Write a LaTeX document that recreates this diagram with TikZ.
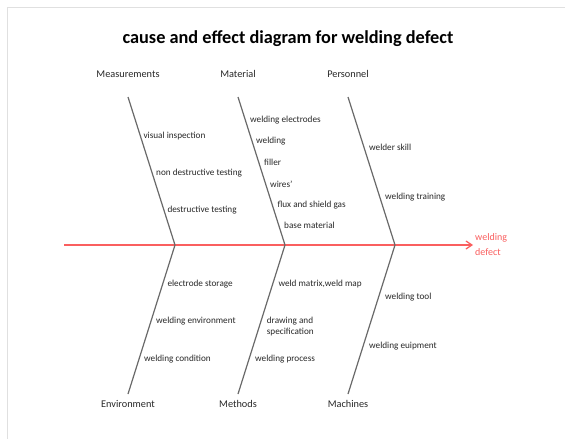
\documentclass[tikz,border=0pt]{standalone}
\usepackage{fontspec}
\setmainfont{Carlito}
\usetikzlibrary{arrows.meta}
\definecolor{spinered}{RGB}{250,95,95}
\definecolor{bonegray}{RGB}{105,105,105}
\definecolor{txt}{RGB}{40,40,40}
\tikzset{
  x=1pt,y=-1pt,
  cause/.style={anchor=west,inner sep=0pt,font=\fontsize{9.2}{11}\selectfont,text=txt,align=left},
  cat/.style={inner sep=0pt,font=\fontsize{10.3}{12}\selectfont,text=txt},
  bone/.style={draw=bonegray,line width=1.2pt},
  spine/.style={draw=spinered,line width=1.6pt,-{Straight Barb[length=6pt,width=8pt,line width=1.2pt]}},
}
\begin{document}
\begin{tikzpicture}
\useasboundingbox (0,0) rectangle (565,439);
\fill[white] (0,0) rectangle (565,439);
\draw[black!12,line width=0.8pt] (7,439) -- (7,7) -- (565,7);
\node[inner sep=0pt,font=\fontsize{18.3}{22}\selectfont\bfseries] (title) at (288,38.5) {cause and effect diagram for welding defect};
% junctions
\coordinate (j1) at (175,245);
\coordinate (j2) at (285,245);
\coordinate (j3) at (395,245);
\coordinate (s0) at (64,245);
\coordinate (s1) at (473,245);
\draw[spine] (s0) -- (s1);
\node[anchor=west,inner sep=0pt,font=\fontsize{10}{15.5}\selectfont,text=spinered,align=left] (eff) at (475,244.5) {welding\\defect};
% bone ends
\coordinate (tM) at (128,97);
\coordinate (tA) at (238,97);
\coordinate (tP) at (348,97);
\coordinate (bE) at (128,394);
\coordinate (bH) at (238,394);
\coordinate (bC) at (348,394);
\draw[bone] (tM) -- (j1) -- (bE);
\draw[bone] (tA) -- (j2) -- (bH);
\draw[bone] (tP) -- (j3) -- (bC);
% categories
\node[cat] (cM) at (128,74) {Measurements};
\node[cat] (cA) at (238,74) {Material};
\node[cat] (cP) at (348,74) {Personnel};
\node[cat] (cE) at (128,403.5) {Environment};
\node[cat] (cH) at (238,403.5) {Methods};
\node[cat] (cC) at (348,403.5) {Machines};
% causes
\node[cause] (m1) at (143.3,135.7) {visual inspection};
\node[cause] (m2) at (156,172.7) {non destructive testing};
\node[cause] (m3) at (167.3,209.7) {destructive testing};
\node[cause] (a1) at (250,120) {welding electrodes};
\node[cause] (a2) at (256,140.7) {welding};
\node[cause] (a3) at (264,162.3) {filler};
\node[cause] (a4) at (270,184) {wires'};
\node[cause] (a5) at (277.3,205) {flux and shield gas};
\node[cause] (a6) at (284,225.7) {base material};
\node[cause] (p1) at (369,147.3) {welder skill};
\node[cause] (p2) at (385,196.7) {welding training};
\node[cause] (e1) at (167.3,283.7) {electrode storage};
\node[cause] (e2) at (156,320.7) {welding environment};
\node[cause] (e3) at (144,358.7) {welding condition};
\node[cause] (h1) at (278.3,283.7) {weld matrix,weld map};
\node[cause,font=\fontsize{9.2}{11.6}\selectfont] (h2) at (266.7,326.5) {drawing and\\specification};
\node[cause] (h3) at (255,358.7) {welding process};
\node[cause] (c1) at (385,296.7) {welding tool};
\node[cause] (c2) at (369,345.7) {welding euipment};
\end{tikzpicture}
\end{document}
